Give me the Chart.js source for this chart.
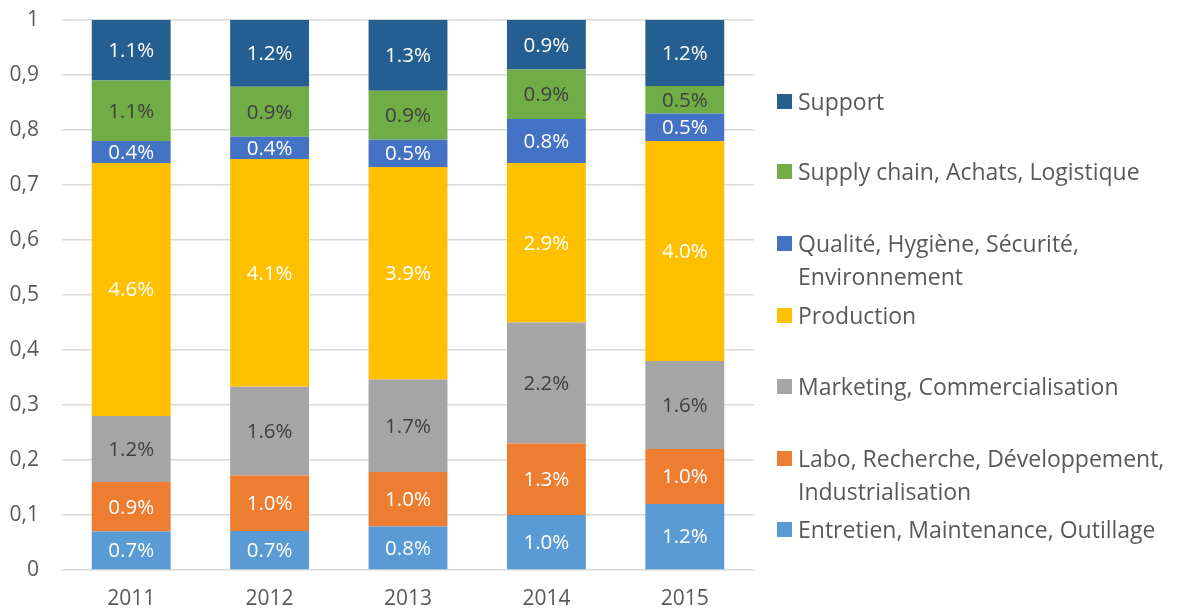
<!DOCTYPE html>
<html>
<head>
<meta charset="utf-8">
<script src="https://cdn.jsdelivr.net/npm/chart.js@4"></script>
<style>
  html, body { margin: 0; padding: 0; background: #fff; }
  #wrap { position: relative; width: 1177px; height: 613px; }
  #legend { position: absolute; left: 777px; top: 0; font-family: "Open Sans", sans-serif; font-size: 23px; color: #595959; }
  .item { position: absolute; left: 0; white-space: pre; line-height: 33px; padding-left: 21px; }
  .item .box { position: absolute; left: 0; top: 9px; width: 15px; height: 15px; }
</style>
</head>
<body>
<div id="wrap">
  <canvas id="chart" width="1177" height="613"></canvas>
  <div id="legend"></div>
</div>
<script>
// années
const years = ['2011', '2012', '2013', '2014', '2015'];

// valeurs affichées sur chaque segment (en %)
const entretien  = [0.7, 0.7, 0.8, 1.0, 1.2];
const labo       = [0.9, 1.0, 1.0, 1.3, 1.0];
const marketing  = [1.2, 1.6, 1.7, 2.2, 1.6];
const production = [4.6, 4.1, 3.9, 2.9, 4.0];
const qualite    = [0.4, 0.4, 0.5, 0.8, 0.5];
const supply     = [1.1, 0.9, 0.9, 0.9, 0.5];
const support    = [1.1, 1.2, 1.3, 0.9, 1.2];

const yTicks = [0, 0.1, 0.2, 0.3, 0.4, 0.5, 0.6, 0.7, 0.8, 0.9, 1];

const series = [
  { name: 'Entretien, Maintenance, Outillage', values: entretien, color: '#5B9BD5', text: '#fff' },
  { name: 'Labo, Recherche, Développement,\nIndustrialisation', values: labo, color: '#ED7D31', text: '#fff' },
  { name: 'Marketing, Commercialisation', values: marketing, color: '#A5A5A5', text: '#404040' },
  { name: 'Production', values: production, color: '#FFC000', text: '#fff' },
  { name: 'Qualité, Hygiène, Sécurité,\nEnvironnement', values: qualite, color: '#4472C4', text: '#fff' },
  { name: 'Supply chain, Achats, Logistique', values: supply, color: '#70AD47', text: '#404040' },
  { name: 'Support', values: support, color: '#255E91', text: '#fff' }
];

// total par année -> barres empilées à 100 %
const totals = years.map((_, i) => series.reduce((s, d) => s + d.values[i], 0));

const FONT = '"Open Sans", sans-serif';

// étiquettes au centre des segments
const segLabels = {
  id: 'segLabels',
  afterDatasetsDraw(chart) {
    const ctx = chart.ctx;
    ctx.save();
    ctx.font = '20.5px ' + FONT;
    ctx.textAlign = 'center';
    ctx.textBaseline = 'middle';
    chart.data.datasets.forEach((ds, di) => {
      const meta = chart.getDatasetMeta(di);
      meta.data.forEach((bar, i) => {
        const p = bar.getProps(['x', 'y', 'base'], true);
        ctx.fillStyle = series[di].text;
        ctx.fillText(series[di].values[i].toFixed(1) + '%', p.x, (p.y + p.base) / 2 + 1);
      });
    });
    ctx.restore();
  }
};

new Chart(document.getElementById('chart'), {
  type: 'bar',
  data: {
    labels: years,
    datasets: series.map(s => ({
      label: s.name,
      data: s.values.map((v, i) => v / totals[i]),
      backgroundColor: s.color,
      borderWidth: 0,
      barPercentage: 0.57,
      categoryPercentage: 1
    }))
  },
  options: {
    responsive: false,
    animation: false,
    layout: { padding: { top: 20, right: 423, left: 0, bottom: 0 } },
    plugins: { legend: { display: false }, tooltip: { enabled: false } },
    scales: {
      x: {
        stacked: true,
        grid: { display: false, drawTicks: false },
        border: { display: false },
        ticks: { color: '#595959', font: { family: FONT, size: 21 }, padding: 16 },
        afterFit(s) { s.height = 43; s.paddingLeft = 0; s.paddingRight = 0; }
      },
      y: {
        stacked: true,
        min: 0,
        max: 1,
        afterBuildTicks(s) { s.ticks = yTicks.map(v => ({ value: v })); },
        grid: { color: '#D9D9D9', lineWidth: 1.5, drawTicks: false },
        border: { display: false },
        ticks: {
          color: '#595959',
          font: { family: FONT, size: 21 },
          padding: 23,
          callback: v => (v === 0 || v === 1) ? String(v) : v.toFixed(1).replace('.', ',')
        },
        afterFit(s) { s.width = 62; s.paddingTop = 0; s.paddingBottom = 0; }
      }
    }
  },
  plugins: [segLabels]
});

// légende (ordre inverse, Support en haut)
const legendTops = [85, 155, 227, 299, 370, 442, 513];
const legend = document.getElementById('legend');
series.slice().reverse().forEach((s, k) => {
  const item = document.createElement('div');
  item.className = 'item';
  item.style.top = legendTops[k] + 'px';
  const box = document.createElement('span');
  box.className = 'box';
  box.style.background = s.color;
  item.appendChild(box);
  item.appendChild(document.createTextNode(s.name));
  legend.appendChild(item);
});
</script>
</body>
</html>
